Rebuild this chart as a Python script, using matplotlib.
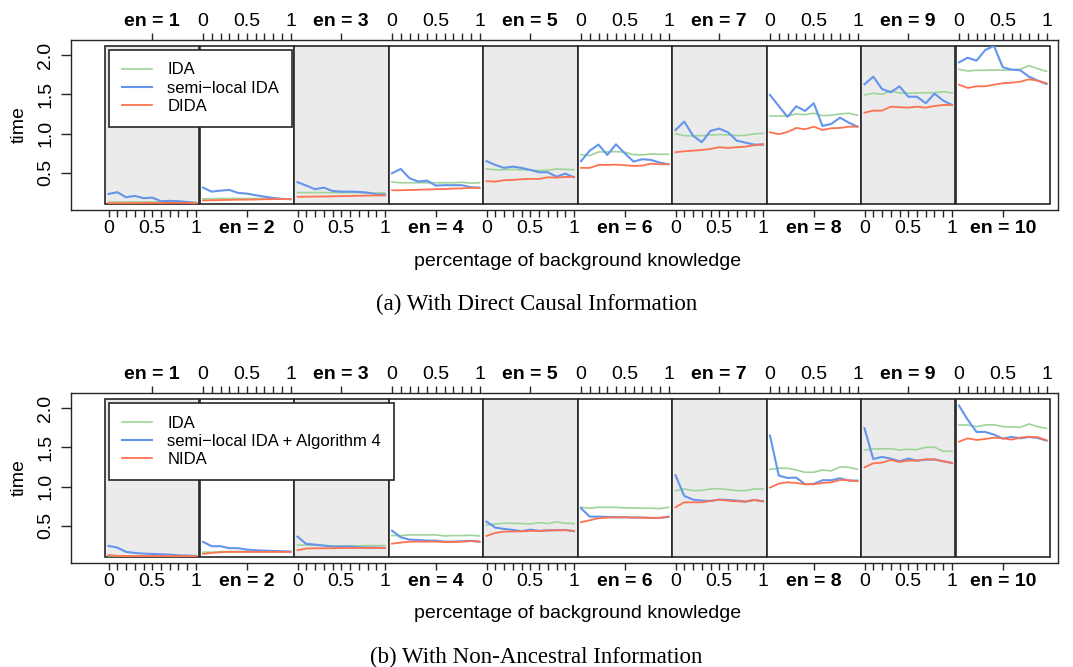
import matplotlib
matplotlib.use('Agg')
import matplotlib.pyplot as plt

plt.rcParams['font.family'] = ['Liberation Sans', 'DejaVu Sans']

# x values inside every panel and the conditioning values
pct = [0.0, 0.1, 0.2, 0.3, 0.4, 0.5, 0.6, 0.7, 0.8, 0.9, 1.0]
en_values = [1, 2, 3, 4, 5, 6, 7, 8, 9, 10]

# (a) with direct causal information
ida_a = [
    [0.125, 0.125, 0.125, 0.125, 0.125, 0.125, 0.125, 0.125, 0.125, 0.125, 0.125],
    [0.17, 0.17, 0.175, 0.175, 0.175, 0.175, 0.175, 0.175, 0.17, 0.17, 0.17],
    [0.25, 0.25, 0.25, 0.25, 0.25, 0.25, 0.25, 0.25, 0.245, 0.245, 0.245],
    [0.385, 0.375, 0.375, 0.375, 0.375, 0.375, 0.375, 0.375, 0.38, 0.37, 0.375],
    [0.55, 0.54, 0.54, 0.545, 0.54, 0.535, 0.53, 0.535, 0.55, 0.545, 0.54],
    [0.733, 0.72, 0.767, 0.767, 0.771, 0.763, 0.733, 0.729, 0.741, 0.737, 0.737],
    [0.999, 0.974, 0.97, 0.974, 0.983, 0.987, 0.983, 0.974, 0.978, 0.996, 1.004],
    [1.224, 1.224, 1.224, 1.25, 1.241, 1.259, 1.228, 1.233, 1.25, 1.259, 1.233],
    [1.491, 1.513, 1.5, 1.542, 1.516, 1.513, 1.516, 1.52, 1.52, 1.533, 1.516],
    [1.818, 1.796, 1.805, 1.805, 1.809, 1.805, 1.813, 1.818, 1.863, 1.825, 1.792],
]
slida_a = [
    [0.233, 0.255, 0.191, 0.208, 0.179, 0.186, 0.140, 0.145, 0.140, 0.131, 0.115],
    [0.313, 0.262, 0.275, 0.284, 0.246, 0.237, 0.217, 0.199, 0.182, 0.170, 0.166],
    [0.382, 0.339, 0.293, 0.313, 0.271, 0.262, 0.262, 0.259, 0.250, 0.229, 0.224],
    [0.496, 0.551, 0.433, 0.39, 0.402, 0.339, 0.344, 0.344, 0.344, 0.318, 0.313],
    [0.649, 0.602, 0.564, 0.580, 0.564, 0.538, 0.509, 0.509, 0.453, 0.491, 0.445],
    [0.649, 0.783, 0.86, 0.729, 0.864, 0.75, 0.644, 0.674, 0.665, 0.631, 0.61],
    [1.046, 1.152, 0.974, 0.89, 1.034, 1.063, 1.017, 0.91, 0.885, 0.86, 0.86],
    [1.491, 1.351, 1.212, 1.347, 1.288, 1.386, 1.097, 1.123, 1.203, 1.139, 1.088],
    [1.627, 1.724, 1.567, 1.525, 1.601, 1.469, 1.469, 1.386, 1.508, 1.419, 1.364],
    [1.906, 1.965, 1.927, 2.063, 2.115, 1.843, 1.813, 1.805, 1.724, 1.673, 1.631],
]
dida_a = [
    [0.115, 0.115, 0.115, 0.117, 0.117, 0.118, 0.118, 0.12, 0.12, 0.12, 0.115],
    [0.15, 0.152, 0.155, 0.157, 0.16, 0.16, 0.162, 0.165, 0.167, 0.168, 0.17],
    [0.197, 0.198, 0.2, 0.2, 0.203, 0.205, 0.207, 0.21, 0.212, 0.214, 0.214],
    [0.28, 0.28, 0.283, 0.286, 0.29, 0.293, 0.296, 0.3, 0.303, 0.31, 0.31],
    [0.395, 0.39, 0.407, 0.411, 0.42, 0.424, 0.424, 0.445, 0.44, 0.449, 0.449],
    [0.564, 0.564, 0.602, 0.602, 0.606, 0.598, 0.589, 0.593, 0.618, 0.61, 0.61],
    [0.763, 0.776, 0.783, 0.792, 0.805, 0.827, 0.818, 0.827, 0.834, 0.852, 0.865],
    [1.017, 0.992, 1.021, 1.072, 1.055, 1.088, 1.046, 1.068, 1.072, 1.088, 1.088],
    [1.266, 1.292, 1.292, 1.342, 1.335, 1.330, 1.342, 1.330, 1.351, 1.364, 1.364],
    [1.622, 1.58, 1.601, 1.601, 1.622, 1.64, 1.647, 1.66, 1.69, 1.673, 1.64],
]

# (b) with non-ancestral information
ida_b = [
    [0.12, 0.118, 0.117, 0.117, 0.117, 0.117, 0.117, 0.117, 0.117, 0.117, 0.117],
    [0.166, 0.166, 0.174, 0.174, 0.174, 0.174, 0.174, 0.174, 0.174, 0.174, 0.174],
    [0.255, 0.258, 0.255, 0.25, 0.247, 0.247, 0.247, 0.247, 0.25, 0.25, 0.25],
    [0.377, 0.377, 0.386, 0.386, 0.386, 0.386, 0.373, 0.377, 0.377, 0.381, 0.373],
    [0.513, 0.525, 0.534, 0.534, 0.53, 0.525, 0.542, 0.53, 0.551, 0.534, 0.53],
    [0.737, 0.725, 0.737, 0.737, 0.737, 0.729, 0.729, 0.725, 0.725, 0.72, 0.737],
    [0.949, 0.97, 0.949, 0.953, 0.97, 0.974, 0.961, 0.949, 0.949, 0.97, 0.97],
    [1.22, 1.233, 1.233, 1.212, 1.182, 1.182, 1.212, 1.199, 1.25, 1.245, 1.22],
    [1.466, 1.479, 1.479, 1.483, 1.466, 1.474, 1.47, 1.5, 1.5, 1.449, 1.449],
    [1.783, 1.783, 1.762, 1.783, 1.787, 1.762, 1.758, 1.754, 1.796, 1.762, 1.741],
]
slida_b = [
    [0.246, 0.225, 0.17, 0.157, 0.148, 0.144, 0.14, 0.135, 0.127, 0.123, 0.119],
    [0.297, 0.242, 0.242, 0.217, 0.217, 0.199, 0.191, 0.186, 0.182, 0.178, 0.174],
    [0.364, 0.271, 0.263, 0.25, 0.237, 0.237, 0.237, 0.229, 0.225, 0.225, 0.22],
    [0.44, 0.356, 0.326, 0.322, 0.313, 0.313, 0.3, 0.3, 0.305, 0.309, 0.3],
    [0.555, 0.479, 0.462, 0.449, 0.433, 0.453, 0.437, 0.445, 0.445, 0.449, 0.433],
    [0.725, 0.618, 0.618, 0.614, 0.61, 0.61, 0.606, 0.606, 0.602, 0.602, 0.614],
    [1.144, 0.881, 0.834, 0.821, 0.818, 0.834, 0.83, 0.821, 0.809, 0.83, 0.813],
    [1.648, 1.14, 1.11, 1.114, 1.03, 1.034, 1.081, 1.081, 1.106, 1.076, 1.076],
    [1.741, 1.351, 1.377, 1.356, 1.322, 1.356, 1.33, 1.343, 1.343, 1.322, 1.3],
    [2.03, 1.849, 1.695, 1.695, 1.661, 1.61, 1.631, 1.614, 1.631, 1.618, 1.584],
]
nida_b = [
    [0.13, 0.12, 0.118, 0.118, 0.118, 0.118, 0.118, 0.118, 0.118, 0.118, 0.115],
    [0.144, 0.157, 0.166, 0.17, 0.17, 0.17, 0.17, 0.17, 0.17, 0.17, 0.17],
    [0.191, 0.212, 0.216, 0.216, 0.216, 0.22, 0.22, 0.22, 0.22, 0.22, 0.22],
    [0.275, 0.288, 0.3, 0.3, 0.3, 0.3, 0.296, 0.296, 0.3, 0.309, 0.3],
    [0.373, 0.411, 0.428, 0.428, 0.433, 0.437, 0.437, 0.441, 0.445, 0.445, 0.437],
    [0.547, 0.572, 0.598, 0.606, 0.61, 0.61, 0.606, 0.606, 0.602, 0.602, 0.619],
    [0.737, 0.8, 0.8, 0.8, 0.818, 0.834, 0.821, 0.813, 0.809, 0.83, 0.813],
    [0.987, 1.038, 1.055, 1.046, 1.03, 1.03, 1.046, 1.055, 1.085, 1.081, 1.068],
    [1.245, 1.296, 1.305, 1.339, 1.313, 1.33, 1.33, 1.347, 1.347, 1.322, 1.3],
    [1.571, 1.614, 1.593, 1.605, 1.622, 1.614, 1.597, 1.622, 1.635, 1.627, 1.589],
]

labels_a = ['IDA', 'semi\u2212local IDA', 'DIDA']
labels_b = ['IDA', 'semi\u2212local IDA + Algorithm 4', 'NIDA']

GREEN = '#9ed49a'
BLUE = '#6495ed'
RED = '#ff7250'
FRAME = '#262626'
GRAY = '#ebebeb'

W, H = 1073, 667
fig = plt.figure(figsize=(W / 100, H / 100), dpi=100)


def rect(x0, y0, x1, y1):
    # pixel box (top-left origin) -> figure fraction
    return [x0 / W, 1 - y1 / H, (x1 - x0) / W, (y1 - y0) / H]


YLIM = (0.105, 2.12)
tick_labels = ['0', '', '', '', '', '0.5', '', '', '', '', '1']


def draw_block(top, series, labels, caption):
    in_top, in_bot = top + 5.5, top + 164
    out_bot = top + 170
    per_px = (YLIM[1] - YLIM[0]) / (in_bot - in_top)

    outer = fig.add_axes(rect(71, top, 1058, out_bot))
    outer.set_xlim(0, 1)
    outer.set_ylim(YLIM[0] - (out_bot - in_bot) * per_px, YLIM[1] + (in_top - top) * per_px)
    outer.set_xticks([])
    outer.set_yticks([0.5, 1.0, 1.5, 2.0], ['0.5', '1.0', '1.5', '2.0'])
    outer.tick_params(axis='y', length=7, width=1, labelsize=14, pad=5, color=FRAME)
    for t in outer.get_yticklabels():
        t.set_rotation(90)
        t.set_va('center')
    outer.set_ylabel('time', fontsize=14, labelpad=7)
    for s in outer.spines.values():
        s.set_color(FRAME)
        s.set_linewidth(1.0)

    pw = 94.5
    handles = None
    for i, en in enumerate(en_values):
        x0 = 105 + i * pw
        ax = fig.add_axes(rect(x0, in_top, x0 + pw, in_bot))
        ax.set_facecolor(GRAY if i % 2 == 0 else 'white')
        ax.patch.set_edgecolor(FRAME)
        ax.patch.set_linewidth(1.2)
        for s in ax.spines.values():
            s.set_visible(False)
        ax.spines['top'].set_position(('outward', (in_top - top) * 0.72))
        ax.spines['bottom'].set_position(('outward', (out_bot - in_bot) * 0.72))
        ax.set_xlim(-0.04, 1.04)
        ax.set_ylim(*YLIM)
        ax.set_yticks([])

        hs = []
        for vals, c, lw, lab in zip(series, [GREEN, BLUE, RED], [1.2, 1.5, 1.3], labels):
            h, = ax.plot(pct, vals[i], color=c, lw=lw, label=lab)
            hs.append(h)
        if handles is None:
            handles = hs

        b = (i % 2 == 0)
        ax.xaxis.remove_overlapping_locs = False
        common = dict(direction='out', length=5, width=1, labelsize=14, pad=2.5, color=FRAME)
        ax.tick_params(which='major', bottom=b, top=not b, labelbottom=b, labeltop=not b, **common)
        ax.tick_params(which='minor', bottom=not b, top=b, labelbottom=not b, labeltop=b, **common)
        ax.set_xticks(pct, tick_labels)
        ax.set_xticks([0.5], ['en = %d' % en], minor=True, fontweight='bold')

    leg = fig.legend(handles, labels, loc='upper left',
                     bbox_to_anchor=(109 / W, 1 - (top + 10) / H), borderaxespad=0,
                     fontsize=12, handlelength=1.85, handletextpad=0.9,
                     borderpad=0.75, labelspacing=0.2, fancybox=False,
                     edgecolor=FRAME, framealpha=1)
    leg.get_frame().set_linewidth(1.2)

    fig.text(577.5 / W, 1 - (top + 221) / H, 'percentage of background knowledge',
             ha='center', va='center', fontsize=14)
    fig.text(536.5 / W, 1 - (top + 264) / H, caption, ha='center', va='center',
             fontsize=16.5, family=['Liberation Serif', 'DejaVu Serif'])


draw_block(40, [ida_a, slida_a, dida_a], labels_a, '(a) With Direct Causal Information')
draw_block(393, [ida_b, slida_b, nida_b], labels_b, '(b) With Non-Ancestral Information')

fig.savefig('out.png', dpi=100)
